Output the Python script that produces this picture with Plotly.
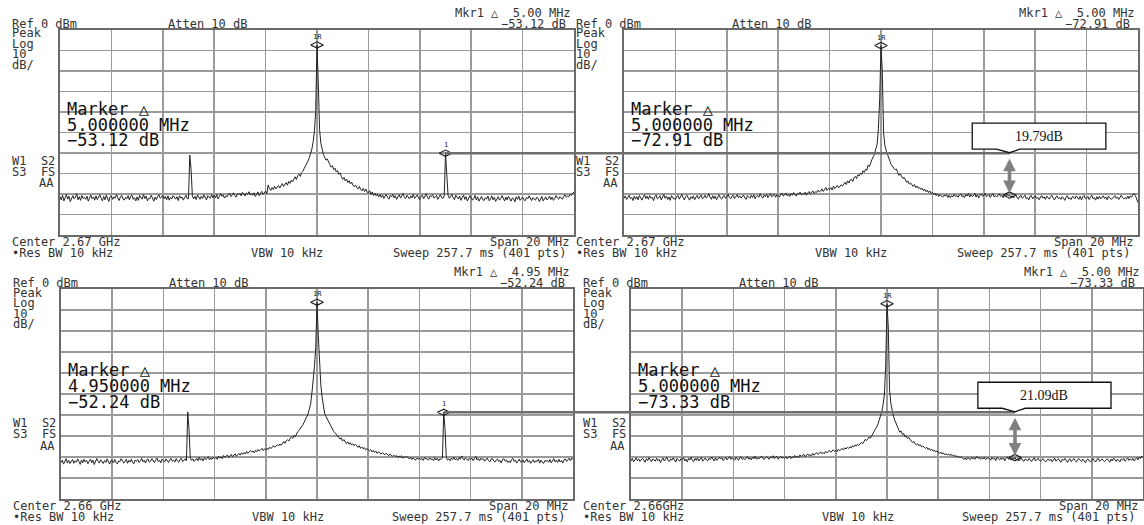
import numpy as np
import plotly.graph_objects as go

W, H = 1144, 525
N_PTS = 401
SPAN_MHZ = 20.0
freq_offset_mhz = [round(v, 2) for v in np.linspace(-SPAN_MHZ / 2, SPAN_MHZ / 2, N_PTS)]

# ---------------- trace data (dBm), 401 sweep points ----------------
trace_p1 = [
    -81.2, -82.9, -80.6, -83.4, -81.8, -80.3, -82.5, -81.1, -83.7, -82.0,
    -80.8, -82.4, -81.5, -79.9, -82.8, -81.3, -83.1, -80.7, -82.2, -81.6,
    -82.6, -81.0, -83.5, -81.9, -80.5, -82.3, -81.4, -83.0, -80.9, -82.7,
    -81.7, -80.4, -82.1, -83.3, -81.2, -82.8, -80.6, -81.9, -83.6, -81.3,
    -80.9, -82.6, -81.4, -82.0, -80.2, -81.8, -83.2, -81.5, -80.7, -82.4,
    -83.0, -81.6, -82.3, -80.8, -82.9, -81.1, -80.5, -82.6, -81.8, -83.4,
    -81.4, -83.1, -80.7, -81.9, -82.5, -80.3, -82.2, -81.0, -83.3, -82.1,
    -82.2, -80.6, -81.7, -83.5, -81.5, -82.7, -81.2, -80.4, -82.0, -81.6,
    -80.7, -82.3, -81.1, -82.8, -80.9, -83.0, -81.6, -82.4, -80.8, -81.9,
    -82.5, -81.3, -83.2, -80.9, -82.0, -81.5, -83.0, -81.7, -80.6, -82.3,
    -82.3, -61.0, -68.0, -80.9, -82.4, -81.1, -82.7, -80.5, -81.9, -82.6,
    -81.0, -82.2, -80.4, -81.7, -82.9, -80.8, -81.5, -82.1, -80.3, -81.8,
    -80.6, -81.9, -80.2, -82.4, -81.3, -79.8, -81.1, -80.5, -82.0, -80.9,
    -81.4, -80.1, -79.7, -81.2, -80.6, -79.4, -80.8, -81.5, -79.9, -80.3,
    -79.6, -80.9, -79.2, -80.4, -81.0, -79.5, -80.1, -78.9, -80.5, -79.7,
    -80.6, -79.4, -81.2, -80.1, -79.0, -80.8, -79.6, -78.7, -80.2, -79.3,
    -78.6, -79.8, -75.6, -77.4, -78.3, -76.9, -77.8, -76.2, -77.5, -76.6,
    -75.8, -77.1, -76.0, -74.9, -76.3, -75.2, -74.4, -75.7, -73.9, -74.8,
    -73.2, -74.1, -72.5, -71.6, -72.9, -71.0, -70.3, -71.4, -69.6, -68.9,
    -67.6, -66.5, -65.2, -63.9, -62.3, -60.4, -58.1, -54.6, -49.2, -39.5,
    -7.3, -26.0, -48.5, -55.3, -58.4, -60.8, -62.1, -63.5, -62.9, -64.8,
    -65.6, -66.9, -66.2, -68.1, -67.4, -69.3, -68.6, -70.4, -69.7, -71.5,
    -72.8, -71.9, -73.6, -72.7, -74.4, -73.5, -75.1, -74.2, -75.8, -76.4,
    -75.6, -76.8, -77.5, -76.3, -77.9, -78.4, -77.2, -78.8, -77.6, -79.1,
    -79.5, -78.4, -80.2, -79.0, -80.7, -79.6, -80.9, -80.1, -81.4, -80.3,
    -81.6, -80.5, -82.2, -81.0, -80.3, -81.8, -82.5, -80.7, -81.4, -80.2,
    -81.9, -80.8, -82.6, -81.3, -80.4, -82.0, -81.1, -79.8, -81.7, -82.3,
    -80.6, -81.5, -82.4, -80.9, -81.8, -80.2, -82.1, -81.4, -80.5, -81.9,
    -82.7, -81.2, -80.6, -82.3, -81.0, -79.9, -81.6, -82.5, -80.8, -81.3,
    -80.4, -82.0, -81.5, -80.7, -82.6, -81.1, -80.3, -81.8, -82.2, -80.9,
    -60.1, -70.5, -80.6, -82.1, -81.3, -80.2, -81.9, -82.8, -80.6, -81.5,
    -82.4, -81.0, -83.1, -81.7, -80.5, -82.6, -81.3, -83.4, -82.0, -80.8,
    -81.6, -83.0, -82.2, -80.7, -82.9, -81.4, -83.5, -82.1, -81.2, -82.7,
    -83.2, -81.8, -82.5, -81.0, -83.3, -82.4, -80.9, -82.8, -81.6, -83.6,
    -82.0, -81.3, -83.0, -82.2, -80.8, -82.6, -83.4, -81.5, -82.9, -81.1,
    -82.7, -83.5, -81.9, -82.3, -83.8, -81.4, -82.6, -81.0, -83.1, -82.2,
    -81.5, -82.8, -83.3, -81.7, -82.4, -80.9, -82.0, -83.2, -81.8, -82.6,
    -83.0, -81.6, -82.1, -83.7, -82.5, -81.2, -83.4, -82.0, -81.4, -82.9,
    -82.3, -81.0, -82.7, -81.5, -83.1, -82.2, -80.8, -81.9, -82.5, -81.3,
    -81.8, -82.6, -81.1, -80.4, -81.6, -80.9, -81.3, -80.2, -80.7, -79.8,
    -78.9,
]

trace_p2 = [
    -82.1, -80.9, -82.7, -81.4, -80.6, -82.3, -81.7, -83.2, -81.0, -82.5,
    -81.3, -82.8, -80.7, -81.9, -83.0, -81.5, -80.4, -82.2, -81.1, -82.6,
    -80.8, -82.0, -81.6, -83.3, -81.2, -80.5, -82.4, -81.8, -80.9, -82.9,
    -81.5, -80.3, -82.1, -81.0, -82.7, -81.4, -83.1, -80.8, -81.9, -82.3,
    -82.6, -81.2, -80.7, -82.5, -81.6, -80.2, -81.8, -82.9, -81.3, -80.6,
    -81.9, -83.0, -81.4, -82.2, -80.9, -82.8, -81.5, -80.7, -82.4, -81.1,
    -80.5, -82.3, -81.8, -80.6, -82.0, -81.3, -79.9, -81.7, -82.6, -80.8,
    -82.2, -81.0, -82.8, -81.5, -80.4, -81.9, -82.5, -81.2, -80.7, -82.1,
    -81.4, -80.2, -81.7, -82.4, -81.0, -80.6, -82.2, -81.5, -80.3, -81.8,
    -80.9, -82.0, -81.3, -80.5, -81.9, -82.6, -80.8, -81.4, -82.1, -80.6,
    -81.7, -80.4, -82.3, -81.1, -80.8, -81.6, -79.9, -81.2, -82.0, -80.5,
    -81.3, -80.1, -81.8, -80.7, -79.8, -81.4, -80.9, -80.2, -81.6, -80.4,
    -80.8, -81.5, -80.0, -79.6, -81.1, -80.3, -79.5, -80.9, -80.1, -81.2,
    -79.8, -80.6, -79.3, -80.4, -81.0, -79.7, -80.2, -79.1, -80.5, -79.9,
    -80.2, -79.1, -80.6, -79.5, -78.8, -80.0, -79.3, -78.5, -79.7, -78.9,
    -79.2, -78.1, -79.0, -78.6, -77.5, -78.8, -77.9, -76.8, -78.2, -77.4,
    -77.8, -76.9, -78.1, -76.2, -77.4, -76.7, -75.8, -77.0, -76.3, -75.5,
    -76.1, -75.0, -74.3, -75.4, -73.6, -74.6, -73.2, -72.8, -73.9, -72.1,
    -71.4, -72.5, -70.6, -71.2, -69.8, -70.4, -68.7, -69.5, -67.9, -68.4,
    -65.9, -66.6, -64.3, -63.1, -61.8, -60.5, -57.9, -55.8, -48.0, -33.0,
    -7.6, -20.0, -50.0, -56.2, -58.7, -60.9, -62.8, -64.1, -65.7, -66.3,
    -67.4, -68.2, -67.8, -69.6, -70.9, -70.2, -71.8, -72.5, -71.9, -73.6,
    -74.3, -73.7, -75.2, -74.6, -75.8, -76.3, -75.4, -76.9, -76.1, -77.3,
    -76.7, -77.8, -77.2, -78.4, -77.6, -78.9, -78.1, -79.3, -78.5, -79.8,
    -79.2, -80.3, -79.6, -80.8, -79.9, -81.2, -80.4, -80.9, -81.5, -80.6,
    -81.0, -80.3, -81.7, -80.6, -81.9, -80.8, -81.4, -80.1, -81.2, -80.7,
    -81.6, -80.5, -79.9, -81.3, -80.7, -81.8, -80.2, -81.0, -79.8, -81.5,
    -80.4, -81.2, -80.8, -79.7, -81.5, -80.3, -81.9, -80.6, -79.9, -81.1,
    -80.7, -79.6, -81.3, -80.9, -80.2, -81.7, -80.5, -79.8, -81.4, -80.8,
    -81.5, -80.4, -79.9, -81.1, -80.6, -81.8, -80.3, -81.2, -80.0, -80.9,
    -80.5, -81.6, -80.8, -82.0, -81.2, -80.4, -81.9, -82.5, -81.0, -80.7,
    -82.1, -81.4, -80.6, -82.3, -81.7, -82.9, -81.1, -80.8, -82.4, -81.5,
    -80.9, -82.2, -81.6, -82.8, -81.3, -80.7, -82.0, -81.4, -82.6, -81.0,
    -81.8, -82.5, -81.2, -80.6, -82.1, -82.9, -81.5, -80.9, -82.3, -81.7,
    -82.6, -81.3, -82.0, -83.1, -81.6, -80.8, -82.4, -81.9, -82.7, -81.2,
    -81.5, -82.3, -80.9, -81.8, -82.6, -81.1, -82.9, -81.4, -80.7, -82.2,
    -82.0, -81.2, -82.7, -81.5, -80.6, -82.3, -81.8, -83.0, -81.3, -82.5,
    -81.1, -82.4, -81.7, -80.9, -82.2, -81.5, -82.8, -81.0, -81.9, -82.6,
    -82.3, -81.6, -80.8, -82.1, -81.4, -82.7, -81.2, -80.6, -81.8, -82.4,
    -81.7, -82.5, -81.0, -82.2, -80.9, -81.6, -80.3, -79.7, -80.8, -83.0,
    -84.2,
]

trace_p3 = [
    -82.7, -81.5, -83.4, -82.0, -80.8, -82.9, -81.6, -83.1, -82.3, -81.2,
    -83.0, -81.8, -82.5, -80.9, -82.2, -83.5, -81.4, -82.8, -81.1, -82.4,
    -81.6, -83.2, -82.1, -81.0, -82.7, -81.5, -83.6, -82.2, -80.7, -82.0,
    -82.9, -81.3, -82.4, -83.1, -81.7, -82.6, -80.9, -82.1, -83.4, -81.8,
    -81.5, -82.8, -81.2, -82.5, -83.3, -81.9, -82.2, -80.8, -81.7, -82.9,
    -82.3, -81.1, -83.0, -81.6, -82.4, -81.0, -82.7, -83.2, -81.4, -82.1,
    -81.2, -82.6, -81.8, -80.6, -82.3, -81.5, -82.9, -81.3, -80.9, -82.5,
    -82.0, -80.8, -81.9, -82.7, -81.3, -80.5, -82.2, -81.6, -82.8, -81.0,
    -81.7, -82.4, -80.9, -81.5, -82.6, -81.2, -80.7, -82.0, -81.4, -82.3,
    -80.8, -81.9, -82.5, -81.1, -80.6, -82.2, -81.5, -80.9, -81.8, -58.5,
    -67.0, -80.4, -81.6, -80.9, -82.1, -81.3, -80.6, -81.8, -80.2, -81.5,
    -80.7, -81.9, -80.3, -81.2, -80.8, -79.9, -81.4, -80.5, -81.1, -80.2,
    -80.9, -80.2, -81.1, -79.6, -80.5, -79.9, -80.8, -79.3, -80.1, -79.7,
    -79.0, -80.2, -79.4, -78.8, -79.9, -79.1, -78.5, -79.6, -78.9, -78.3,
    -79.1, -78.0, -78.7, -77.9, -78.6, -77.4, -78.3, -77.8, -76.9, -77.6,
    -77.1, -78.0, -76.8, -77.5, -76.4, -77.2, -76.6, -75.9, -76.9, -76.1,
    -76.7, -75.8, -76.4, -75.3, -76.0, -75.5, -74.6, -75.4, -74.9, -74.2,
    -74.7, -73.8, -74.4, -73.1, -72.6, -73.5, -72.2, -71.8, -72.4, -71.1,
    -70.5, -71.2, -69.8, -70.4, -68.6, -67.9, -67.3, -66.5, -65.8, -64.6,
    -63.4, -62.1, -60.8, -59.5, -57.2, -54.9, -49.6, -44.5, -37.0, -28.0,
    -6.3, -22.0, -36.5, -45.8, -51.5, -56.0, -59.4, -60.7, -62.0, -63.1,
    -64.6, -65.9, -67.2, -67.8, -68.4, -69.3, -70.1, -70.8, -71.5, -70.9,
    -72.4, -71.7, -72.9, -73.6, -72.8, -73.9, -73.2, -74.3, -73.7, -74.6,
    -73.9, -74.8, -75.4, -74.6, -75.9, -75.2, -76.1, -75.5, -76.6, -76.0,
    -76.4, -77.1, -76.5, -77.6, -76.9, -77.8, -77.2, -78.3, -77.5, -78.0,
    -78.6, -77.9, -78.4, -79.0, -78.2, -78.9, -79.4, -78.6, -79.2, -79.7,
    -79.1, -79.8, -79.3, -80.2, -79.5, -80.0, -79.4, -80.6, -79.8, -80.3,
    -79.6, -80.5, -80.9, -80.1, -81.2, -80.4, -80.8, -81.5, -80.6, -81.0,
    -80.5, -81.3, -80.7, -81.6, -80.2, -81.0, -80.8, -81.5, -80.4, -81.2,
    -80.9, -81.7, -80.3, -81.4, -80.6, -81.9, -80.8, -81.1, -80.5, -58.7,
    -66.5, -80.2, -81.5, -80.9, -81.8, -80.6, -81.2, -80.1, -81.4, -80.7,
    -81.6, -80.3, -81.1, -79.5, -80.8, -81.5, -80.4, -81.0, -81.7, -80.6,
    -81.2, -80.5, -81.8, -80.9, -79.8, -81.4, -80.7, -81.9, -80.6, -81.3,
    -80.8, -82.0, -81.3, -80.5, -81.7, -82.3, -81.0, -80.7, -81.9, -82.4,
    -81.5, -80.9, -82.2, -81.6, -82.8, -81.1, -80.8, -82.0, -81.4, -82.6,
    -81.9, -82.7, -81.3, -80.6, -82.1, -81.5, -82.9, -81.8, -81.0, -82.4,
    -82.3, -81.4, -82.8, -81.9, -80.9, -82.5, -81.6, -83.0, -82.1, -81.3,
    -82.7, -81.8, -82.2, -81.0, -82.9, -81.5, -82.4, -83.1, -81.7, -82.0,
    -81.6, -82.5, -81.2, -82.8, -81.9, -80.8, -82.3, -81.5, -82.6, -81.1,
    -82.4, -81.7, -82.9, -81.3, -80.9, -82.1, -81.4, -80.6, -81.8, -80.5,
    -81.2,
]

trace_p4 = [
    -81.9, -80.7, -82.3, -81.2, -80.4, -81.8, -80.9, -82.1, -81.5, -80.6,
    -81.4, -82.5, -80.8, -81.7, -80.3, -81.6, -82.2, -80.9, -81.3, -82.0,
    -80.6, -81.8, -81.1, -82.6, -81.4, -80.5, -81.9, -81.0, -80.2, -81.7,
    -82.1, -80.9, -81.5, -80.4, -81.8, -82.4, -80.7, -81.3, -82.0, -80.8,
    -81.2, -80.3, -81.9, -81.0, -82.3, -80.6, -81.4, -80.1, -81.7, -82.2,
    -80.7, -81.6, -80.4, -81.9, -81.1, -80.2, -82.0, -81.3, -80.5, -81.5,
    -81.8, -80.6, -81.3, -80.0, -81.2, -81.9, -80.4, -81.6, -80.8, -80.1,
    -81.0, -80.3, -81.7, -80.9, -80.2, -81.4, -80.6, -79.8, -81.1, -80.5,
    -80.8, -81.5, -80.1, -80.9, -81.6, -80.4, -79.9, -81.2, -80.6, -81.3,
    -80.2, -79.7, -81.0, -80.5, -81.4, -80.0, -80.8, -79.6, -81.1, -80.4,
    -80.9, -80.1, -79.5, -80.7, -81.2, -80.3, -79.8, -80.6, -81.0, -79.9,
    -80.5, -79.4, -80.8, -80.0, -79.6, -81.1, -80.3, -79.7, -80.6, -80.1,
    -80.6, -79.8, -80.9, -80.2, -79.5, -80.7, -79.9, -80.4, -79.3, -80.1,
    -79.6, -80.3, -79.0, -79.8, -79.2, -78.7, -79.9, -79.1, -78.5, -79.4,
    -78.8, -79.6, -78.3, -79.1, -78.6, -77.9, -78.8, -78.1, -77.6, -78.4,
    -77.8, -78.5, -77.3, -78.0, -77.5, -76.9, -77.7, -77.1, -76.6, -77.4,
    -76.8, -77.5, -76.3, -77.0, -76.5, -75.9, -76.7, -75.6, -76.2, -75.4,
    -75.9, -75.1, -75.7, -74.6, -75.2, -74.3, -74.8, -73.9, -74.5, -73.4,
    -73.0, -73.7, -72.4, -71.6, -72.2, -71.0, -70.5, -71.1, -69.6, -68.9,
    -67.7, -66.9, -65.6, -64.2, -62.5, -60.8, -58.3, -54.8, -50.0, -36.0,
    -7.0, -18.0, -48.0, -54.5, -58.0, -60.6, -62.4, -64.1, -65.5, -66.8,
    -68.2, -67.6, -69.3, -68.8, -70.4, -69.9, -71.2, -70.7, -71.9, -72.4,
    -73.1, -72.6, -73.8, -74.3, -73.7, -74.6, -74.1, -75.2, -74.8, -75.5,
    -75.9, -75.3, -76.4, -75.8, -76.9, -76.3, -77.2, -76.7, -77.6, -77.1,
    -77.8, -78.3, -77.6, -78.6, -78.0, -78.9, -78.4, -79.1, -78.5, -79.3,
    -78.7, -79.5, -79.0, -79.8, -79.3, -80.1, -79.6, -80.4, -79.8, -80.7,
    -81.2, -80.5, -81.4, -80.2, -80.8, -81.3, -80.1, -80.9, -80.4, -81.0,
    -79.8, -80.6, -80.2, -81.1, -80.5, -80.9, -80.1, -81.3, -80.6, -80.4,
    -80.8, -81.5, -80.3, -81.0, -80.6, -81.7, -80.2, -80.9, -81.4, -80.5,
    -81.1, -80.4, -81.8, -80.7, -79.9, -81.2, -80.6, -81.5, -80.3, -81.0,
    -80.3, -81.4, -80.8, -81.9, -81.1, -80.5, -81.7, -82.0, -80.9, -81.3,
    -81.8, -80.7, -81.5, -82.2, -81.0, -80.4, -81.9, -81.3, -80.6, -81.6,
    -82.1, -81.2, -80.8, -81.7, -82.4, -81.5, -80.9, -81.8, -81.1, -82.3,
    -81.4, -80.6, -82.0, -81.2, -80.8, -81.9, -82.5, -81.0, -81.6, -80.7,
    -81.9, -82.6, -81.3, -80.9, -82.2, -81.5, -80.7, -81.8, -82.4, -81.2,
    -80.8, -81.6, -82.1, -81.0, -81.7, -82.8, -81.4, -80.9, -81.9, -82.3,
    -81.5, -80.7, -81.8, -82.4, -81.1, -80.6, -82.0, -81.3, -80.9, -81.7,
    -82.2, -81.4, -80.8, -81.6, -82.5, -81.0, -81.9, -80.5, -81.3, -82.1,
    -81.0, -81.8, -82.3, -80.9, -81.5, -80.7, -82.0, -81.2, -80.4, -81.6,
    -80.9, -81.5, -80.6, -81.9, -81.1, -80.3, -81.4, -80.1, -80.7, -79.6,
    -80.4,
]

traces = [trace_p1, trace_p2, trace_p3, trace_p4]
for _t in traces:
    assert len(_t) == N_PTS, len(_t)

# marker positions (MHz offset from center)
peak_marker_mhz = [0.0, 0.0, 0.0, 0.0]
delta_marker_mhz = [5.0, 5.0, 4.95, 5.0]

# texts
center_labels = ["Center 2.67 GHz", "Center 2.67 GHz", "Center 2.66 GHz", "Center 2.66GHz"]
mkr_header = ["Mkr1 △  5.00 MHz", "Mkr1 △  5.00 MHz", "Mkr1 △  4.95 MHz", "Mkr1 △  5.00 MHz"]
mkr_delta_db = ["−53.12 dB", "−72.91 dB", "−52.24 dB", "−73.33 dB"]
mkr_freq_long = ["5.000000 MHz", "5.000000 MHz", "4.950000 MHz", "5.000000 MHz"]
callout_labels = ["19.79dB", "21.09dB"]

# ---------------- layout geometry (pixels) ----------------
PANEL_BOX = [(60, 30, 574, 235), (624, 30, 1138, 235),
             (61, 289, 573, 499), (631, 289, 1143, 499)]
X_RANGE = [-10, 10]
Y_RANGE = [-100, 0]

MONO = "DejaVu Sans Mono"
SMALL = 12
TXT_COL = "#333333"
TRACE_COL = "#222222"
GRID_COL = "#9a9a9a"


def to_paper(p, xv, yv):
    L, T, R, B = PANEL_BOX[p]
    px = L + (xv - X_RANGE[0]) / (X_RANGE[1] - X_RANGE[0]) * (R - L)
    py = T + (Y_RANGE[1] - yv) / (Y_RANGE[1] - Y_RANGE[0]) * (B - T)
    return px / W, 1 - py / H


fig = go.Figure()
annotations = []
shapes = []


def txt(xp, yp, s, anchor="left", size=SMALL, color=TXT_COL, family=MONO):
    annotations.append(dict(x=xp / W, y=1 - yp / H, xref="paper", yref="paper",
                            text=s, xanchor=anchor, yanchor="middle", showarrow=False,
                            borderpad=0,
                            font=dict(family=family, size=size, color=color)))


for p in range(4):
    sfx = "" if p == 0 else str(p + 1)
    L, T, R, B = PANEL_BOX[p]
    Hh = B - T
    axis_common = dict(showgrid=True, gridcolor=GRID_COL, gridwidth=1.6, zeroline=False,
                       showticklabels=False, ticks="", showline=True, mirror=True,
                       linecolor="#6a6a6a", linewidth=2, fixedrange=True)
    fig.layout["xaxis" + sfx] = dict(domain=[L / W, R / W], range=X_RANGE, dtick=2, tick0=0,
                                     anchor="y" + sfx, **axis_common)
    fig.layout["yaxis" + sfx] = dict(domain=[1 - B / H, 1 - T / H], range=Y_RANGE, dtick=10, tick0=0,
                                     anchor="x" + sfx, **axis_common)

    tr = traces[p]
    fig.add_trace(go.Scatter(x=freq_offset_mhz, y=tr, mode="lines", xaxis="x" + sfx, yaxis="y" + sfx,
                             line=dict(color=TRACE_COL, width=1), showlegend=False, hoverinfo="skip"))

    ip = freq_offset_mhz.index(peak_marker_mhz[p])
    idl = freq_offset_mhz.index(delta_marker_mhz[p])
    fig.add_trace(go.Scatter(x=[freq_offset_mhz[ip], freq_offset_mhz[idl]], y=[tr[ip], tr[idl]],
                             mode="markers", xaxis="x" + sfx, yaxis="y" + sfx,
                             marker=dict(symbol="diamond-wide-open", size=9, color="#222222",
                                         line=dict(width=1.2, color="#222222")),
                             showlegend=False, hoverinfo="skip"))
    # marker labels
    annotations.append(dict(x=freq_offset_mhz[ip], y=tr[ip], xref="x" + sfx, yref="y" + sfx,
                            text="1R", showarrow=False, yshift=8, borderpad=0,
                            font=dict(family=MONO, size=7, color="#222")))
    if p in (0, 2):
        annotations.append(dict(x=freq_offset_mhz[idl], y=tr[idl], xref="x" + sfx, yref="y" + sfx,
                                text="1", showarrow=False, yshift=8, borderpad=0,
                                font=dict(family=MONO, size=7, color="#222")))

    # header texts
    lx = L - 49
    txt(lx, T - 6, "Ref 0 dBm")
    txt(L + 107, T - 6, "Atten 10 dB")
    txt(R - 2, T - 17, mkr_header[p], anchor="right")
    txt(R - 7, T - 6, mkr_delta_db[p], anchor="right")
    for s, f in zip(["Peak", "Log", "10", "dB/"], [3.5, 14, 24.5, 35]):
        txt(lx, T + f, s)
    txt(lx, T + 0.639 * Hh, "W1  S2")
    txt(lx, T + 0.692 * Hh, "S3  FS")
    txt(L - 5, T + 0.746 * Hh, "AA", anchor="right")
    # marker block
    txt(L + 6, T + 0.384 * Hh, "Marker △", size=17, color="#111")
    txt(L + 6, T + 0.463 * Hh, mkr_freq_long[p], size=17, color="#111")
    txt(L + 6, T + 0.537 * Hh, mkr_delta_db[p], size=17, color="#111")
    # bottom texts
    txt(lx, B + 7, center_labels[p])
    txt(lx, B + 17.5, "•Res BW 10 kHz")
    txt(L + 190, B + 17.5, "VBW 10 kHz")
    txt(R - 4, B + 7, "Span 20 MHz", anchor="right")
    txt(R - 7, B + 17.5, "Sweep 257.7 ms (401 pts)", anchor="right")

# ---------------- comparison overlays (left spur level carried to right panel) ----------------
for src, dst, lab in [(0, 1, callout_labels[0]), (2, 3, callout_labels[1])]:
    idl = freq_offset_mhz.index(delta_marker_mhz[src])
    level = traces[src][idl]
    x0, y0 = to_paper(src, delta_marker_mhz[src], level)
    x1, _ = to_paper(dst, delta_marker_mhz[dst], level)
    shapes.append(dict(type="line", xref="paper", yref="paper", x0=x0, y0=y0, x1=x1, y1=y0,
                       line=dict(color="#6e6e6e", width=2.5), layer="above"))
    # callout box with notch pointing to the line
    L, T, R, B = PANEL_BOX[dst]
    ppx = (R - L) / 20.0
    tip_x = x1 * W
    tip_y = (1 - y0) * H
    bx0, bx1 = tip_x - 1.45 * ppx, tip_x + 3.75 * ppx
    by1 = tip_y - 4
    by0 = by1 - 26
    nl, nr = tip_x - 0.5 * ppx, tip_x + 0.4 * ppx
    pts = [(bx0, by0), (bx1, by0), (bx1, by1), (nr, by1), (tip_x, tip_y - 0.5), (nl, by1), (bx0, by1)]
    path = "M " + " L ".join(f"{px / W:.5f},{1 - py / H:.5f}" for px, py in pts) + " Z"
    shapes.append(dict(type="path", xref="paper", yref="paper", path=path,
                       fillcolor="white", line=dict(color="#111111", width=1.3), layer="above"))
    annotations.append(dict(x=(bx0 + bx1) / 2 / W, y=1 - (by0 + by1) / 2 / H, xref="paper", yref="paper",
                            text=lab, showarrow=False, xanchor="center", yanchor="middle",
                            font=dict(family="Liberation Serif", size=14, color="#111")))
    # double-headed arrow from line level down to the marker on the right panel
    idd = freq_offset_mhz.index(delta_marker_mhz[dst])
    lvl_dst = traces[dst][idd]
    ax_p, ay_p = to_paper(dst, delta_marker_mhz[dst], lvl_dst + 1.0)
    top_px = tip_y + 4
    tip_px = (1 - ay_p) * H
    annotations.append(dict(x=ax_p, y=ay_p, xref="paper", yref="paper", text="",
                            showarrow=True, arrowhead=2, arrowside="end+start", arrowsize=0.7,
                            arrowwidth=3.6, arrowcolor="#808080",
                            ax=0, ay=-(tip_px - top_px)))

fig.update_layout(width=W, height=H, margin=dict(l=0, r=0, t=0, b=0),
                  paper_bgcolor="white", plot_bgcolor="white",
                  annotations=annotations, shapes=shapes, showlegend=False)

fig.write_html("out.html", config={"displayModeBar": False, "staticPlot": True},
               post_script="document.body.style.margin='0';")
